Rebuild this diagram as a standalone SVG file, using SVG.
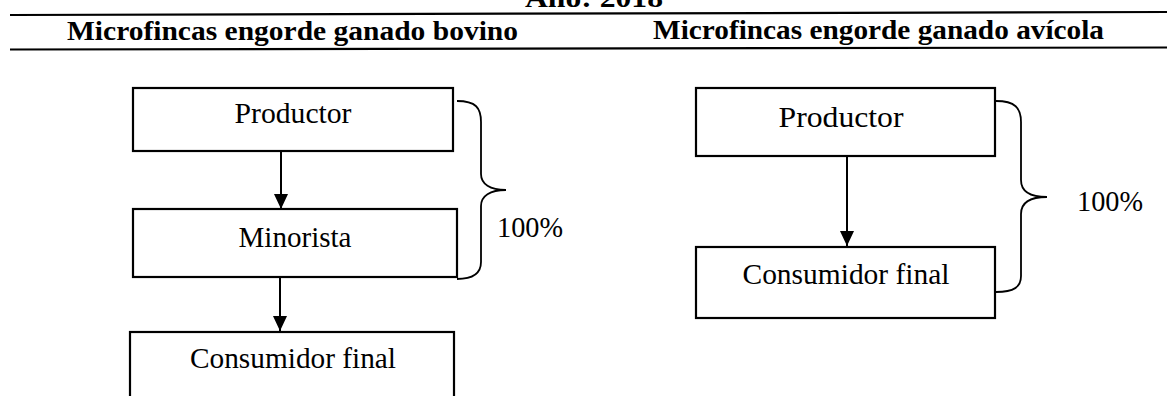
<svg xmlns="http://www.w3.org/2000/svg" width="1167" height="396" viewBox="0 0 1167 396">
<defs>
<style>
.box{fill:#fff;stroke:#000;stroke-width:2.2}
.lbl{font-family:"Liberation Serif","Times New Roman",serif;font-size:29px;fill:#000;text-anchor:middle}
.hdr{font-family:"Liberation Serif","Times New Roman",serif;font-size:26.5px;font-weight:bold;fill:#000}
.rule{stroke:#000;stroke-width:2.2;fill:none}
.edge{stroke:#000;stroke-width:2;fill:none}
.brace{stroke:#000;stroke-width:1.8;fill:none}
</style>
<marker id="arr" markerWidth="16" markerHeight="14" refX="15" refY="7" orient="auto" markerUnits="userSpaceOnUse">
<path d="M0,0 L15,7 L0,14 Z" fill="#000"/>
</marker>
</defs>
<rect width="1167" height="396" fill="#fff"/>
<g id="header">
<text class="hdr" x="525" y="7" textLength="138" lengthAdjust="spacingAndGlyphs">Año: 2018</text>
<line class="rule" x1="10" y1="15" x2="1167" y2="12"/>
<text class="hdr" x="67" y="40" textLength="451" lengthAdjust="spacingAndGlyphs">Microfincas engorde ganado bovino</text>
<text class="hdr" x="653" y="39" textLength="451" lengthAdjust="spacingAndGlyphs">Microfincas engorde ganado avícola</text>
<line class="rule" x1="10" y1="49.5" x2="1167" y2="47.5"/>
</g>
<g id="connectors">
<line class="edge" x1="281" y1="151" x2="281" y2="209" marker-end="url(#arr)"/>
<line class="edge" x1="280" y1="277" x2="280" y2="331" marker-end="url(#arr)"/>
<line class="edge" x1="847" y1="156" x2="847" y2="246" marker-end="url(#arr)"/>
</g>
<g id="bovino-productor">
<rect class="box" x="133" y="88" width="320" height="63"/>
<text class="lbl" x="293" y="123" textLength="117" lengthAdjust="spacingAndGlyphs">Productor</text>
</g>
<g id="bovino-minorista">
<rect class="box" x="133" y="209" width="324" height="68"/>
<text class="lbl" x="295" y="247" textLength="113" lengthAdjust="spacingAndGlyphs">Minorista</text>
</g>
<g id="bovino-consumidor">
<rect class="box" x="130" y="332" width="324" height="80"/>
<text class="lbl" x="293" y="368" textLength="206" lengthAdjust="spacingAndGlyphs">Consumidor final</text>
</g>
<g id="bovino-brace">
<path class="brace" d="M457,101 C476,101 481,108 481,122 L481,174 C481,184 490,190 506,190 C490,190 481,196 481,206 L481,262 C481,273 474,279 457,279"/>
<text class="lbl" x="530" y="237" textLength="66" lengthAdjust="spacingAndGlyphs">100%</text>
</g>
<g id="avicola-productor">
<rect class="box" x="696" y="88" width="299" height="68"/>
<text class="lbl" x="841" y="127" textLength="125" lengthAdjust="spacingAndGlyphs">Productor</text>
</g>
<g id="avicola-consumidor">
<rect class="box" x="696" y="247" width="299" height="71"/>
<text class="lbl" x="846" y="284" textLength="207" lengthAdjust="spacingAndGlyphs">Consumidor final</text>
</g>
<g id="avicola-brace">
<path class="brace" d="M996,101 C1015,101 1021,108 1021,122 L1021,180 C1021,191 1030,197 1047,197 C1030,197 1021,203 1021,214 L1021,276 C1021,287 1014,292 996,292"/>
<text class="lbl" x="1110" y="211" textLength="66" lengthAdjust="spacingAndGlyphs">100%</text>
</g>
</svg>
